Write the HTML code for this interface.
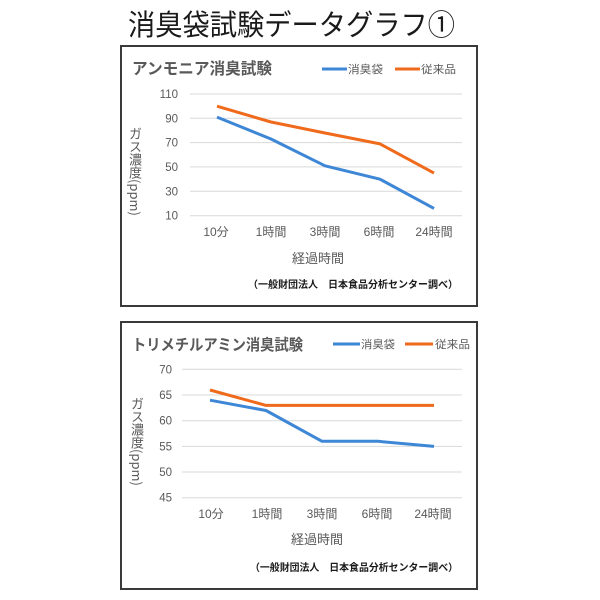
<!DOCTYPE html>
<html>
<head>
<meta charset="utf-8">
<style>
html,body{margin:0;padding:0;background:#fff;}
#wrap{position:relative;width:600px;height:600px;overflow:hidden;background:#fff;}
svg{position:absolute;left:0;top:0;}
svg text{font-family:"Liberation Sans","Noto Sans CJK JP",sans-serif;}
.vt{position:absolute;writing-mode:vertical-rl;font-family:"Noto Sans CJK JP","Liberation Sans",sans-serif;font-size:13px;color:#595959;line-height:14px;white-space:nowrap;}
</style>
</head>
<body>
<div id="wrap">
<svg width="600" height="600" viewBox="0 0 600 600">
  <!-- main title -->
  <text x="128" y="35" font-size="29" fill="#1a1a1a" textLength="327" lengthAdjust="spacingAndGlyphs" style="font-family:'Noto Sans CJK JP',sans-serif">消臭袋試験データグラフ①</text>

  <!-- ============ chart 1 ============ -->
  <rect x="121" y="46" width="356" height="260" fill="#fff" stroke="#3a3a3a" stroke-width="2"/>
  <text x="132" y="74" font-size="16" font-weight="bold" fill="#595959" textLength="140" lengthAdjust="spacingAndGlyphs" style="font-family:'Noto Sans CJK JP',sans-serif">アンモニア消臭試験</text>
  <line x1="322" y1="69" x2="347" y2="69" stroke="#3d87d6" stroke-width="3"/>
  <text x="348" y="73" font-size="11" fill="#595959" textLength="35" lengthAdjust="spacingAndGlyphs">消臭袋</text>
  <line x1="395" y1="69" x2="420" y2="69" stroke="#f06a1c" stroke-width="3"/>
  <text x="421" y="73" font-size="11" fill="#595959" textLength="35" lengthAdjust="spacingAndGlyphs">従来品</text>

  <g stroke="#d9d9d9" stroke-width="1">
    <line x1="190" y1="94" x2="462" y2="94"/>
    <line x1="190" y1="118.3" x2="462" y2="118.3"/>
    <line x1="190" y1="142.6" x2="462" y2="142.6"/>
    <line x1="190" y1="166.9" x2="462" y2="166.9"/>
    <line x1="190" y1="191.3" x2="462" y2="191.3"/>
    <line x1="190" y1="215.7" x2="462" y2="215.7"/>
  </g>
  <g font-size="11.5" fill="#595959" text-anchor="end">
    <text x="178" y="98">110</text>
    <text x="178" y="122.3">90</text>
    <text x="178" y="146.6">70</text>
    <text x="178" y="170.9">50</text>
    <text x="178" y="195.3">30</text>
    <text x="178" y="219.7">10</text>
  </g>
  <g font-size="12" fill="#595959" text-anchor="middle">
    <text x="216" y="236">10分</text>
    <text x="271" y="236">1時間</text>
    <text x="325" y="236">3時間</text>
    <text x="379" y="236">6時間</text>
    <text x="434" y="236">24時間</text>
  </g>
  <text x="318" y="263" font-size="13" fill="#595959" text-anchor="middle">経過時間</text>
  <text x="248" y="288" font-size="10" font-weight="bold" fill="#1a1a1a" textLength="210" lengthAdjust="spacingAndGlyphs">（一般財団法人　日本食品分析センター調べ）</text>

  <polyline fill="none" stroke="#f06a1c" stroke-width="3" stroke-linejoin="round" points="217,106.2 271,122 325,133 380,143.9 434,173.1"/>
  <polyline fill="none" stroke="#3d87d6" stroke-width="3" stroke-linejoin="round" points="217,117.1 271,139 325,165.8 380,179.2 434,208.4"/>

  <!-- ============ chart 2 ============ -->
  <rect x="121" y="322" width="356" height="267" fill="#fff" stroke="#3a3a3a" stroke-width="2"/>
  <text x="132" y="350" font-size="15.5" font-weight="bold" fill="#595959" textLength="171" lengthAdjust="spacingAndGlyphs" style="font-family:'Noto Sans CJK JP',sans-serif">トリメチルアミン消臭試験</text>
  <line x1="333" y1="344" x2="360" y2="344" stroke="#3d87d6" stroke-width="3"/>
  <text x="361" y="348" font-size="11" fill="#595959" textLength="34" lengthAdjust="spacingAndGlyphs">消臭袋</text>
  <line x1="405" y1="344" x2="433" y2="344" stroke="#f06a1c" stroke-width="3"/>
  <text x="435" y="348" font-size="11" fill="#595959" textLength="35" lengthAdjust="spacingAndGlyphs">従来品</text>

  <g stroke="#d9d9d9" stroke-width="1">
    <line x1="182" y1="369.3" x2="462" y2="369.3"/>
    <line x1="182" y1="395" x2="462" y2="395"/>
    <line x1="182" y1="420.7" x2="462" y2="420.7"/>
    <line x1="182" y1="446.4" x2="462" y2="446.4"/>
    <line x1="182" y1="472" x2="462" y2="472"/>
    <line x1="182" y1="497.7" x2="462" y2="497.7"/>
  </g>
  <g font-size="11.5" fill="#595959" text-anchor="end">
    <text x="172" y="373.3">70</text>
    <text x="172" y="399">65</text>
    <text x="172" y="424.7">60</text>
    <text x="172" y="450.4">55</text>
    <text x="172" y="476">50</text>
    <text x="172" y="501.7">45</text>
  </g>
  <g font-size="12" fill="#595959" text-anchor="middle">
    <text x="211" y="518">10分</text>
    <text x="267" y="518">1時間</text>
    <text x="322" y="518">3時間</text>
    <text x="377" y="518">6時間</text>
    <text x="433" y="518">24時間</text>
  </g>
  <text x="317" y="544" font-size="13" fill="#595959" text-anchor="middle">経過時間</text>
  <text x="250" y="571" font-size="10" font-weight="bold" fill="#1a1a1a" textLength="208" lengthAdjust="spacingAndGlyphs">（一般財団法人　日本食品分析センター調べ）</text>

  <polyline fill="none" stroke="#f06a1c" stroke-width="3" stroke-linejoin="round" points="210,390 266,405.4 322,405.4 378,405.4 434,405.4"/>
  <polyline fill="none" stroke="#3d87d6" stroke-width="3" stroke-linejoin="round" points="210,400.2 266,410.5 322,441.3 378,441.3 434,446.4"/>
</svg>
<div class="vt" style="left:128px;top:127px;">ガス濃度(ppm)</div>
<div class="vt" style="left:130px;top:397px;">ガス濃度(ppm)</div>
</div>
</body>
</html>
